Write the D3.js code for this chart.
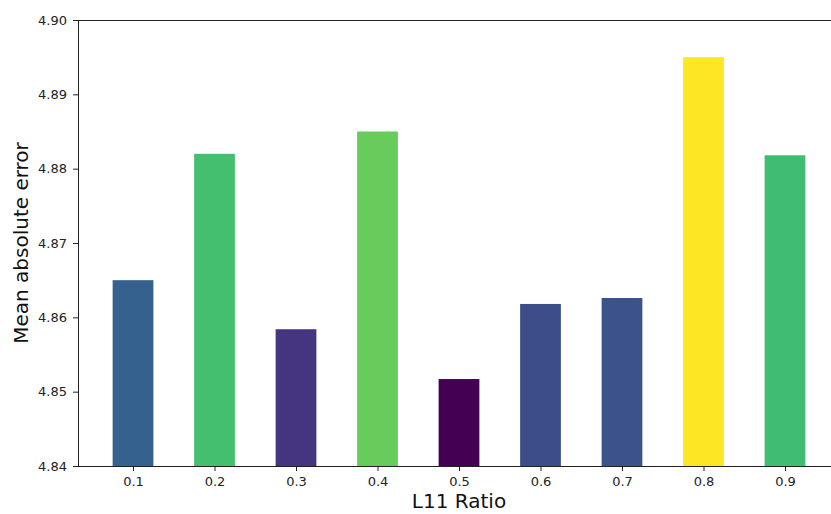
<!DOCTYPE html>
<html>
<head>
<meta charset="utf-8">
<script src="https://cdn.jsdelivr.net/npm/d3@7"></script>
<style>
  html, body { margin: 0; padding: 0; background: #fff; }
  svg { display: block; font-family: "DejaVu Sans", sans-serif; }
  .tick text { font-size: 13px; font-family: "DejaVu Sans", sans-serif; fill: #222; }
</style>
</head>
<body>
<svg id="chart" width="831" height="514"></svg>
<script>
// L11 ratio sweep: mean absolute error per ratio
const ratios = ["0.1", "0.2", "0.3", "0.4", "0.5", "0.6", "0.7", "0.8", "0.9"];
const maeValues = [4.8650, 4.8820, 4.8584, 4.8850, 4.8517, 4.8618, 4.8626, 4.8950, 4.8818];
const yTicks = [4.84, 4.85, 4.86, 4.87, 4.88, 4.89, 4.90];

const svg = d3.select("#chart");
const plotLeft = 78, plotRight = 840, plotTop = 20, plotBottom = 466;

// positional x scale: bar i centred at i, width 0.5, with matplotlib-style margins
const x = d3.scaleLinear().domain([-0.675, 8.675]).range([plotLeft, plotRight]);
const y = d3.scaleLinear().domain([4.84, 4.90]).range([plotBottom, plotTop]);
const color = d3.scaleSequential(d3.interpolateViridis)
  .domain([d3.min(maeValues), d3.max(maeValues)]);

const barW = 0.5;

svg.append("g").selectAll("rect")
  .data(maeValues)
  .join("rect")
  .attr("x", (d, i) => x(i - barW / 2))
  .attr("width", (d, i) => x(i + barW / 2) - x(i - barW / 2))
  .attr("y", d => y(d))
  .attr("height", d => plotBottom - y(d))
  .attr("fill", d => color(d));

// axes
const xAxis = d3.axisBottom(x)
  .tickValues(d3.range(ratios.length))
  .tickFormat(i => ratios[i])
  .tickSize(5).tickPadding(6);
const gx = svg.append("g").attr("transform", `translate(0,${plotBottom})`).call(xAxis);
gx.select(".domain").remove();

const yAxis = d3.axisLeft(y)
  .tickValues(yTicks)
  .tickFormat(d3.format(".2f"))
  .tickSize(5).tickPadding(6);
const gy = svg.append("g").attr("transform", `translate(${plotLeft},0)`).call(yAxis);
gy.select(".domain").remove();

svg.selectAll(".tick text").style("font-size", "13px");
svg.selectAll(".tick line").attr("stroke", "#222").attr("stroke-width", 1);

// spines
const spine = svg.append("g").attr("stroke", "#222").attr("stroke-width", 1).attr("fill", "none");
spine.append("line").attr("x1", plotLeft).attr("x2", plotRight).attr("y1", plotTop + 0.5).attr("y2", plotTop + 0.5);
spine.append("line").attr("x1", plotLeft).attr("x2", plotRight).attr("y1", plotBottom + 0.5).attr("y2", plotBottom + 0.5);
spine.append("line").attr("x1", plotLeft + 0.5).attr("x2", plotLeft + 0.5).attr("y1", plotTop).attr("y2", plotBottom + 1);
spine.append("line").attr("x1", plotRight - 0.5).attr("x2", plotRight - 0.5).attr("y1", plotTop).attr("y2", plotBottom + 1);

// axis titles
svg.append("text")
  .attr("x", 459).attr("y", 508)
  .attr("text-anchor", "middle")
  .attr("font-size", 20).attr("fill", "#111")
  .text("L11 Ratio");

svg.append("text")
  .attr("transform", `translate(28,${(plotTop + plotBottom) / 2}) rotate(-90)`)
  .attr("text-anchor", "middle")
  .attr("font-size", 20).attr("fill", "#111")
  .text("Mean absolute error");
</script>
</body>
</html>
